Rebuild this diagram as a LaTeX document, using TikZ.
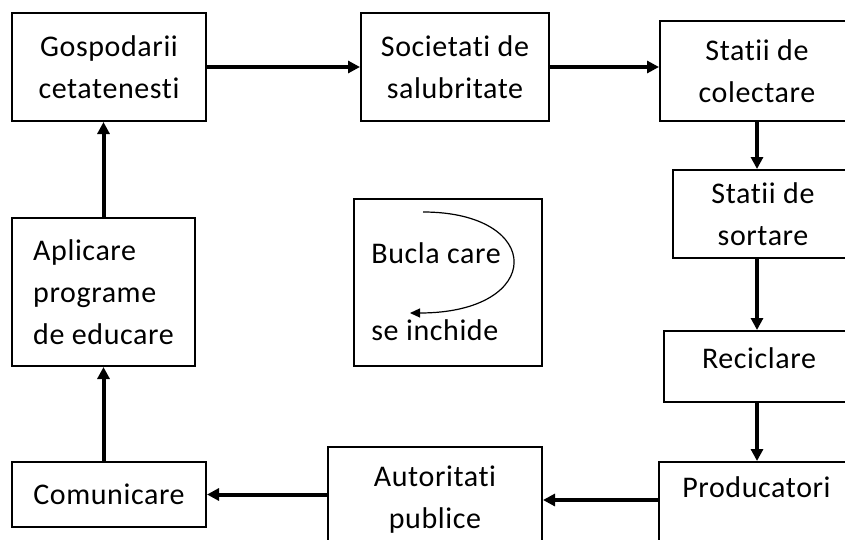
\documentclass[tikz,border=0pt]{standalone}
\usepackage{fontspec}
\setmainfont{Carlito}[Ligatures=NoCommon,LetterSpace=2]
\usetikzlibrary{arrows.meta}

\begin{document}
\begin{tikzpicture}[x=0.5pt,y=-0.5pt,
  box/.style={draw,line width=1pt,inner sep=0pt,align=center,
    font=\fontsize{15}{21}\selectfont},
  flow/.style={line width=2pt,-{Triangle[length=6pt,width=6pt]}}]
  \useasboundingbox (0,0) rectangle (845,540);
  \clip (0,0) rectangle (845,540);
  % top row
  \node[box,minimum width=97pt,minimum height=54pt] (gosp) at (109,67) {Gospodarii\\cetatenesti};
  \node[box,minimum width=94pt,minimum height=54pt] (soc) at (455,67) {Societati de\\salubritate};
  \node[box,minimum width=97pt,minimum height=50pt] (col) at (757,71) {Statii de\\colectare};
  % right column
  \node[box,minimum width=90pt,minimum height=44pt] (sort) at (763,214) {Statii de\\sortare};
  \node[box,minimum width=95pt,minimum height=35.5pt,text height=11pt,text depth=9.5pt] (recic) at (759,366.5) {Reciclare};
  \node[box,minimum width=97.5pt,minimum height=45.5pt,text height=11pt,text depth=21.5pt] (prod) at (756.5,507.5) {Producatori};
  % bottom row and left column
  \node[box,minimum width=107pt,minimum height=53pt] (aut) at (435,500) {Autoritati\\publice};
  \node[box,minimum width=97pt,minimum height=32.5pt] (com) at (109,494.5) {Comunicare};
  \node[box,align=left,minimum width=91.5pt,minimum height=74pt] (apl) at (103.5,292) {Aplicare\\programe\\de educare};
  % middle
  \node[box,minimum width=94pt,minimum height=83.5pt] (bucla) at (448,282.5) {};
  \node[anchor=base west,inner sep=0pt,font=\fontsize{15}{21}\selectfont] (bucla1) at (371,263) {Bucla care};
  \node[anchor=base west,inner sep=0pt,font=\fontsize{15}{21}\selectfont] (bucla2) at (371,340) {se inchide};
  \coordinate (loopa) at (423,212);
  \coordinate (loopb) at (410,313);
  \draw[line width=0.6pt,-{Triangle[length=5pt,width=4.5pt]}] (loopa) .. controls (545,212) and (545,313) .. (loopb);

  \draw[flow] (gosp.east) -- (soc.west);
  \draw[flow] (soc.east) -- (soc.east -| col.west);
  \draw[flow] (col.south) -- (col.south |- sort.north);
  \draw[flow] (col.south |- sort.south) -- (col.south |- recic.north);
  \draw[flow] (col.south |- recic.south) -- (col.south |- prod.north);
  \draw[flow] (prod.west |- aut.east) -- (aut.east);
  \draw[flow] (aut.west |- com.east) -- (com.east);
  \draw[flow] (com.north -| apl.south) -- (apl.south);
  \draw[flow] (apl.north) -- (apl.north |- gosp.south);
\end{tikzpicture}
\end{document}
